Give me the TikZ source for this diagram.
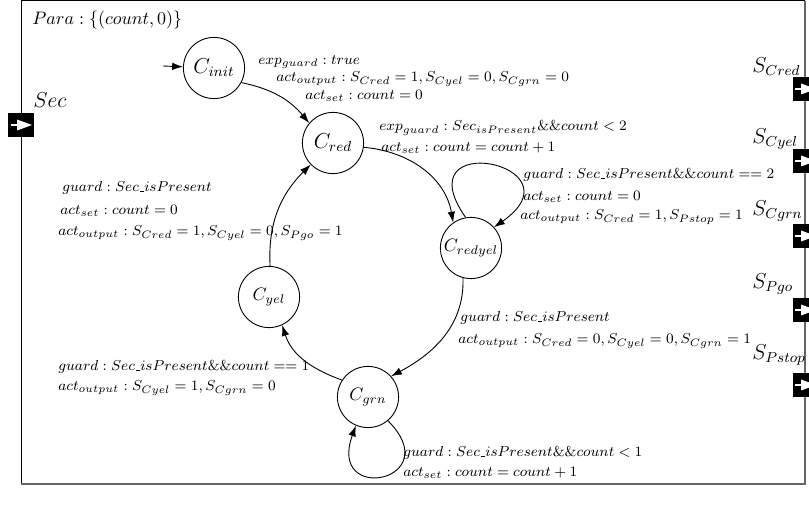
\documentclass[tikz,border=0pt]{standalone}
\usetikzlibrary{arrows.meta}
% narrow underscore, as in the classic OT1 \_
\newcommand\usc{\mbox{\kern.06em\vbox{\hrule width.3em}}}
\begin{document}
\begin{tikzpicture}[x=0.5556pt, y=0.5556pt,
  state/.style={draw, circle, line width=0.5pt, minimum size=34pt, inner sep=0pt},
  edge/.style={line width=0.5pt, -{Latex[length=6pt,width=4.2pt]}},
  lbl/.style={anchor=west, inner sep=0pt, font=\fontsize{8.3}{10}\selectfont},
  portlbl/.style={anchor=west, inner sep=0pt, font=\large},
  port/.style={fill=black, minimum width=13.9pt, minimum height=12.8pt, inner sep=0pt,
    path picture={
      \fill[white] ([xshift=-2.2pt]path picture bounding box.center) ++(0,3.05pt)
        -- ++(8.3pt,-3.05pt) -- ++(-8.3pt,-3.05pt) -- cycle;
      \draw[white, line width=0.9pt] ([xshift=-5.6pt]path picture bounding box.center) -- ++(3.9pt,0);
    }}]
\useasboundingbox (0,0) rectangle (809,513);
\clip (0,0) rectangle (809,513);

% component frame
\draw[line width=0.55pt] (21,29) -- (21,512) -- (805,512);
\draw[line width=1.1pt, black!60] (805,512) -- (805,29) -- (21,29);

\node[lbl, font=\normalsize] (para) at (32,493) {$Para:\{(count,0)\}$};

% input port
\node[lbl, font=\large] (seclbl) at (33,413) {$Sec$};
\node[port] (secport) at (21,388) {};

% output ports
\node[portlbl] (lcred) at (752,446) {$S_{Cred}$};
\node[port] (pcred) at (805,424) {};
\node[portlbl] (lcyel) at (752,374) {$S_{Cyel}$};
\node[port] (pcyel) at (805,352) {};
\node[portlbl] (lcgrn) at (752,302) {$S_{Cgrn}$};
\node[port] (pcgrn) at (805,277) {};
\node[portlbl] (lpgo) at (752,229) {$S_{Pgo}$};
\node[port] (ppgo) at (805,203) {};
\node[portlbl] (lpstop) at (752,158) {$S_{Pstop}$};
\node[port] (ppstop) at (805,128) {};

% states
\node[state, font=\large] (cinit) at (214,445) {$C_{init}$};
\node[state, font=\large] (cred) at (333,370) {$C_{red}$};
\node[state] (credyel) at (471,265) {$C_{redyel}$};
\node[state] (cyel) at (269,216) {$C_{yel}$};
\node[state] (cgrn) at (368,116) {$C_{grn}$};

% transitions
\coordinate (start) at (163,447);
\draw[edge] (start) -- (cinit);
\draw[edge] (cinit.-28) to[out=-12,in=130] (cred.140);
\draw[edge] (cred.-8) to[out=-5,in=100] (credyel.125);
\draw[edge] (credyel.-105) to[out=-88,in=28] (cgrn.42);
\draw[edge] (cgrn.147) to[out=160,in=-72] (cyel.-65);
\draw[edge] (cyel.88) to[out=93,in=-135] (cred.-136);
\draw[edge] (credyel.100) .. controls +(125:110) and +(35:110) .. (credyel.42);
\draw[edge] (cgrn.-50) .. controls +(-45:85) and +(-110:85) .. (cgrn.-113);

% transition labels
\node[lbl] (l1a) at (258,451) {$exp_{guard}:true$};
\node[lbl] (l1b) at (276,434) {$act_{output}:S_{Cred}=1,S_{Cyel}=0,S_{Cgrn}=0$};
\node[lbl] (l1c) at (305,417) {$act_{set}:count=0$};

\node[lbl] (l2a) at (379,385) {$exp_{guard}:Sec_{isPresent}\&\&count<2$};
\node[lbl] (l2b) at (381,365) {$act_{set}:count=count+1$};

\node[lbl] (l3a) at (523,338) {$guard:Sec\usc isPresent\&\&count==2$};
\node[lbl] (l3b) at (523,316) {$act_{set}:count=0$};
\node[lbl] (l3c) at (520,296) {$act_{output}:S_{Cred}=1,S_{Pstop}=1$};

\node[lbl] (l4a) at (460,195) {$guard:Sec\usc isPresent$};
\node[lbl] (l4b) at (458,172) {$act_{output}:S_{Cred}=0,S_{Cyel}=0,S_{Cgrn}=1$};

\node[lbl] (l5a) at (58,146) {$guard:Sec\usc isPresent\&\&count==1$};
\node[lbl] (l5b) at (58,125) {$act_{output}:S_{Cyel}=1,S_{Cgrn}=0$};

\node[lbl] (l6a) at (403,60) {$guard:Sec\usc isPresent\&\&count<1$};
\node[lbl] (l6b) at (403,40) {$act_{set}:count=count+1$};

\node[lbl] (l7a) at (62,325) {$guard:Sec\usc isPresent$};
\node[lbl] (l7b) at (60,302) {$act_{set}:count=0$};
\node[lbl] (l7c) at (58,280) {$act_{output}:S_{Cred}=1,S_{Cyel}=0,S_{Pgo}=1$};
\end{tikzpicture}
\end{document}
